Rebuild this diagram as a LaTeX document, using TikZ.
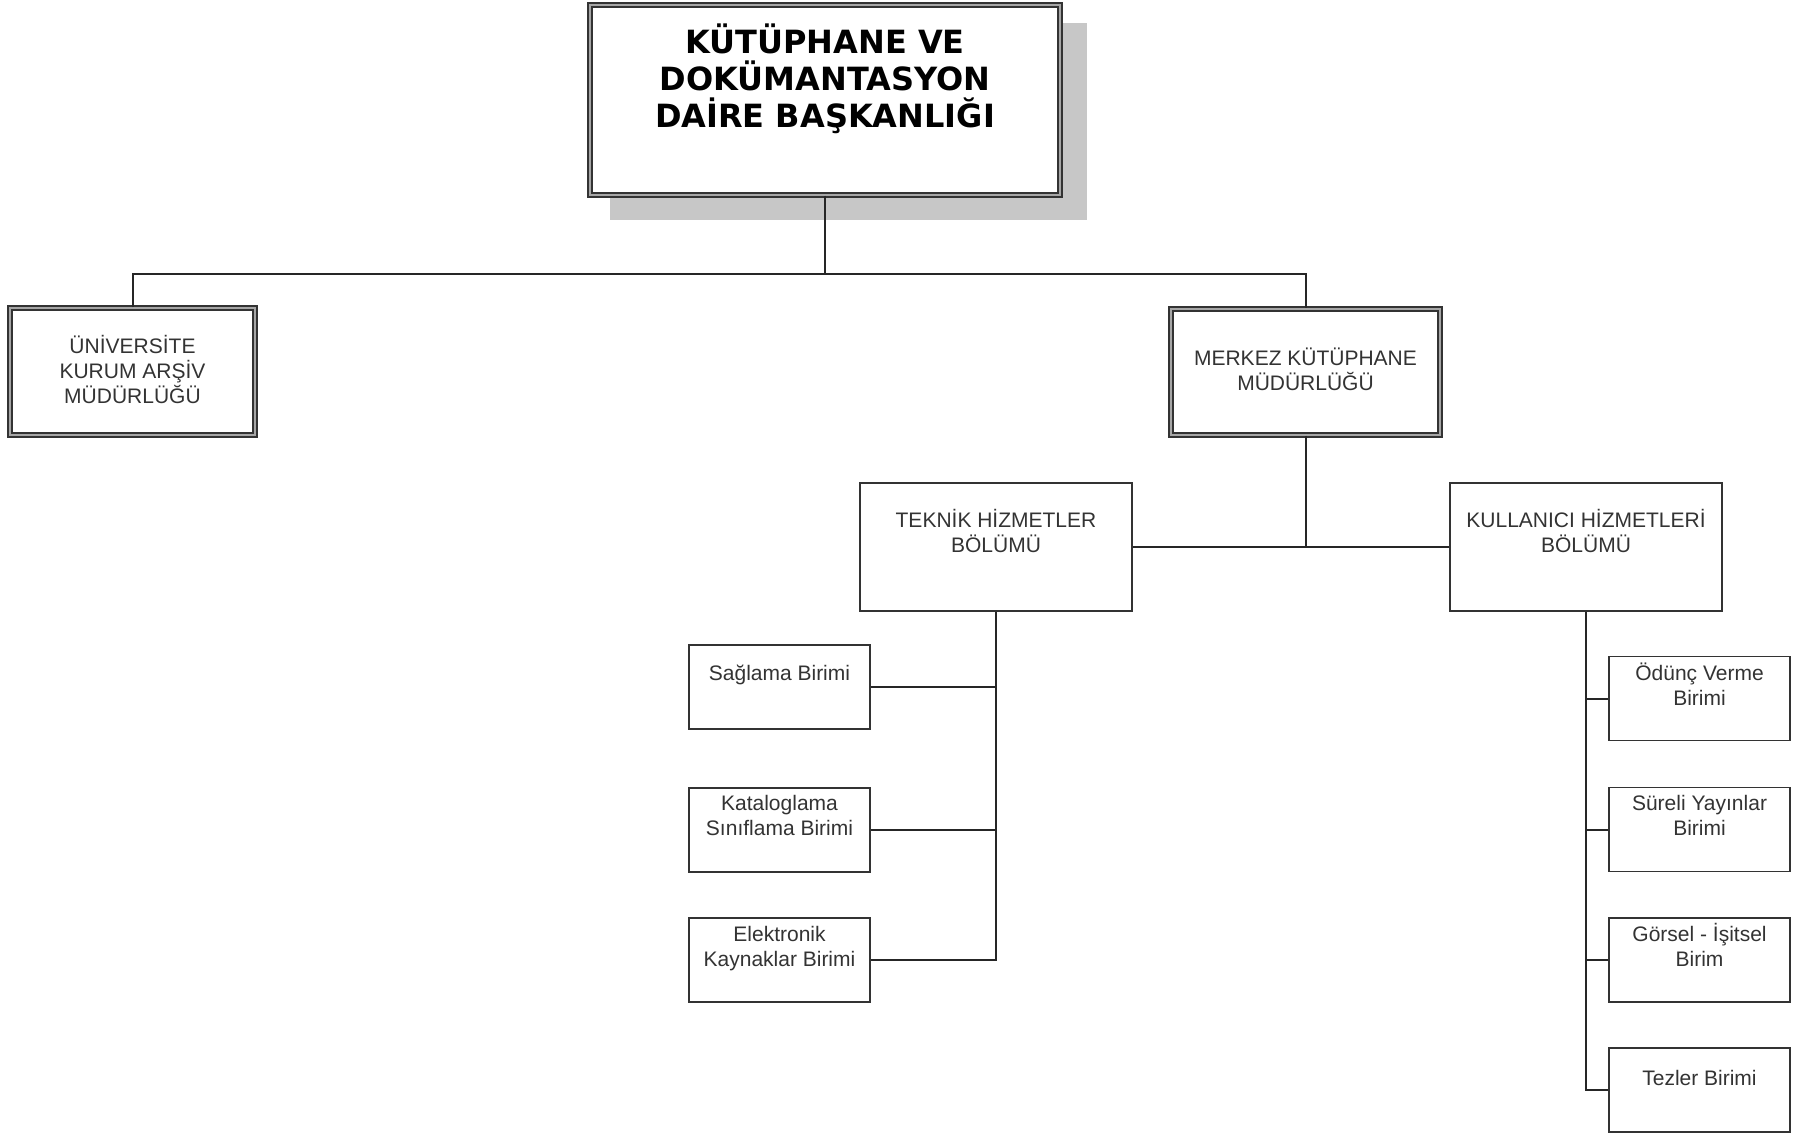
\documentclass[tikz,border=0pt]{standalone}
\usepackage{fontspec}
\setmainfont{Liberation Sans}
\newfontfamily\titlefont{DejaVu Sans}
\begin{document}
\begin{tikzpicture}[x=1pt,y=-1pt,
  sbox/.style={draw=black!80, line width=1.6pt, fill=white, inner sep=0pt},
  dbox/.style={draw=black!80, line width=1.3pt, double=black!35, double distance=2.6pt, fill=white, inner sep=0pt},
  txt/.style={font=\fontsize{21}{25}\selectfont, text=black!80, align=center, inner sep=0pt},
  ttl/.style={font=\titlefont\bfseries\fontsize{32}{37}\selectfont, text=black, align=center, inner sep=0pt},
  conn/.style={draw=black!85, line width=2pt},
  unit/.style={sbox, minimum width=181pt, minimum height=84pt},
  dept/.style={sbox, minimum width=272pt, minimum height=128pt}]
\fill[white] (0,0) rectangle (1805,1135);
\useasboundingbox (0,0) rectangle (1805,1135);
% shadow of the head box
\fill[black!22] (610,23) rectangle (1087,220);
% head
\node[dbox, minimum width=470pt, minimum height=190pt] (top) at (825,100) {};
\node[ttl] (topt) at ([yshift=21pt]top.center) {KÜTÜPHANE VE\\DOKÜMANTASYON\\DAİRE BAŞKANLIĞI};
% level 1
\node[dbox, minimum width=245pt, minimum height=127pt] (univ) at (132.5,371.5) {};
\node[txt] (univt) at ([yshift=2pt]univ.center) {ÜNİVERSİTE\\KURUM ARŞİV\\MÜDÜRLÜĞÜ};
\node[dbox, minimum width=269pt, minimum height=126pt] (merkez) at (1305.5,372) {};
\node[txt] (merkezt) at ([yshift=2.5pt]merkez.center) {MERKEZ KÜTÜPHANE\\MÜDÜRLÜĞÜ};
% level 2
\node[dept] (teknik) at (996,547) {};
\node[txt] (teknikt) at ([yshift=-49pt]teknik.north) {TEKNİK HİZMETLER\\BÖLÜMÜ};
\node[dept] (kull) at (1586,547) {};
\node[txt] (kullt) at ([yshift=-49pt]kull.north) {KULLANICI HİZMETLERİ\\BÖLÜMÜ};
% units left
\node[unit] (sag) at (779.5,687) {};
\node[txt] (sagt) at ([yshift=-31pt]sag.north) {Sağlama Birimi};
\node[unit] (kat) at (779.5,830) {};
\node[txt] (katt) at ([yshift=-28.5pt]kat.north) {Kataloglama\\Sınıflama Birimi};
\node[unit] (elek) at (779.5,960) {};
\node[txt] (elekt) at ([yshift=-31pt]elek.north) {Elektronik\\Kaynaklar Birimi};
% units right
\node[unit] (odu) at (1699.5,698.5) {};
\node[txt] (odut) at ([yshift=-29pt]odu.north) {Ödünç Verme\\Birimi};
\node[unit] (sur) at (1699.5,829.5) {};
\node[txt] (surt) at ([yshift=-29pt]sur.north) {Süreli Yayınlar\\Birimi};
\node[unit] (gor) at (1699.5,960) {};
\node[txt] (gort) at ([yshift=-28pt]gor.north) {Görsel - İşitsel\\Birim};
\node[unit] (tez) at (1699.5,1090) {};
\node[txt] (tezt) at ([yshift=-31pt]tez.north) {Tezler Birimi};
% connectors
\coordinate (bus1) at (0,274);
\draw[conn] (top.south) -- (top.south |- bus1);
\draw[conn] (univ.north) -- (univ.north |- bus1) -- (merkez.north |- bus1) -- (merkez.north);
\draw[conn] (merkez.south) -- (merkez.south |- teknik.east);
\draw[conn] (teknik.east) -- (kull.west);
\draw[conn] (teknik.south) -- (teknik.south |- elek.east) -- (elek.east);
\draw[conn] (sag.east) -- (sag.east -| teknik.south);
\draw[conn] (kat.east) -- (kat.east -| teknik.south);
\draw[conn] (kull.south) -- (kull.south |- tez.west) -- (tez.west);
\draw[conn] (odu.west) -- (odu.west -| kull.south);
\draw[conn] (sur.west) -- (sur.west -| kull.south);
\draw[conn] (gor.west) -- (gor.west -| kull.south);
\end{tikzpicture}
\end{document}
